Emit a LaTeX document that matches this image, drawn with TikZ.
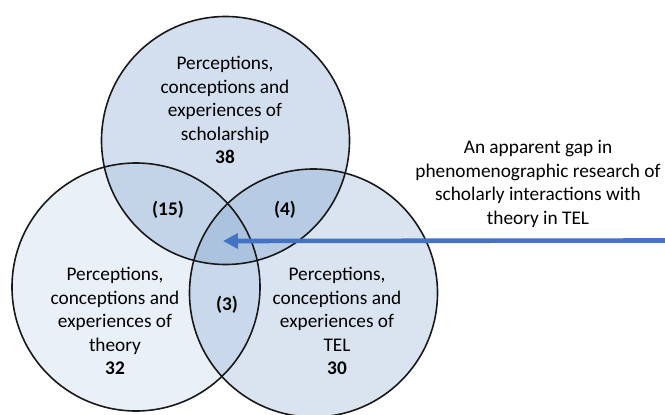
\documentclass[tikz,border=0pt]{standalone}
\usepackage{fontspec}
\setmainfont{Carlito}
\usetikzlibrary{arrows.meta}
\definecolor{vennblue}{RGB}{79,129,189}
\definecolor{arrowblue}{RGB}{68,114,196}
\definecolor{edgecol}{RGB}{25,25,25}
\begin{document}
\begin{tikzpicture}[x=1pt,y=-1pt,
  venn/.style={circle, inner sep=0pt, minimum size=248pt, fill=vennblue},
  ring/.style={draw=edgecol, line width=1.6pt},
  lbl/.style={align=center, font=\fontsize{19.3}{23.5}\selectfont, text=black, inner sep=0pt},
  num/.style={font=\fontsize{19.3}{23.5}\selectfont\bfseries, text=black, inner sep=0pt}]
\useasboundingbox (0,0) rectangle (665,415);
% fills
\node[venn, fill opacity=0.12] (theory) at (136,287) {};
\node[venn, fill opacity=0.21] (tel) at (313.5,293) {};
\node[venn, fill opacity=0.25] (schol) at (225.5,140.5) {};
% outlines
\draw[ring] (theory.center) circle (124pt);
\draw[ring] (tel.center) circle (124pt);
\draw[ring] (schol.center) circle (124pt);
% labels
\node[lbl] (tschol) at (225,110) {Perceptions,\\conceptions and\\experiences of\\scholarship\\\textbf{38}};
\node[lbl] (ttheory) at (115,321) {Perceptions,\\conceptions and\\experiences of\\theory\\\textbf{32}};
\node[lbl] (ttel) at (337,321) {Perceptions,\\conceptions and\\experiences of\\TEL\\\textbf{30}};
\node[num] (n15) at (168,210) {(15)};
\node[num] (n4) at (285,210) {(4)};
\node[num] (n3) at (227,305) {(3)};
\node[lbl] (gaptext) at (538,184) {An apparent gap in\\phenomenographic research of\\scholarly interactions with\\theory in TEL};
% arrow
\coordinate (arrowstart) at (666,240.5);
\coordinate (gap) at (223,241);
\draw[arrowblue, line width=4.6pt, -{Triangle[length=15pt,width=15pt]}] (arrowstart) -- (gap);
\end{tikzpicture}
\end{document}
